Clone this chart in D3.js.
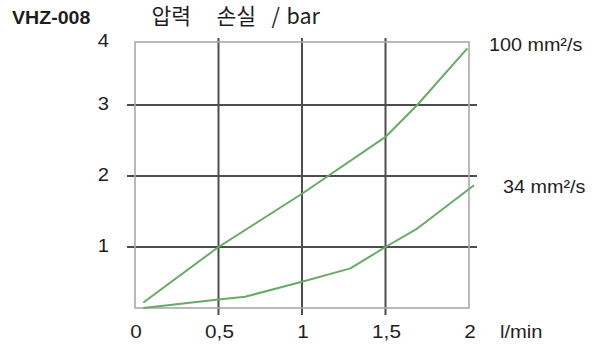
<!DOCTYPE html>
<html>
<head>
<meta charset="utf-8">
<script src="https://cdn.jsdelivr.net/npm/d3@7"></script>
<style>
  html, body { margin: 0; padding: 0; background: #fff; }
  svg { display: block; }
  text { font-family: "Liberation Sans", Arial, sans-serif; fill: #1e1e1e; }
</style>
</head>
<body>
<svg id="chart" width="597" height="345"></svg>
<script>
// Flow rate (l/min) ticks and pressure loss (bar) ticks
const xTicks = [0, 0.5, 1, 1.5, 2];
const xTickLabels = ["0", "0,5", "1", "1,5", "2"];
const yTicks = [0, 1, 2, 3, 4];
const yTickLabels = ["", "1", "2", "3", "4"];

// Pressure loss curves for two viscosities
const flow100 = [0.05, 0.5, 1, 1.5, 1.69, 1.99];
const loss100 = [0.09, 1.0, 1.75, 2.55, 3.0, 3.9];
const flow34 = [0.05, 0.5, 0.66, 1, 1.29, 1.5, 1.69, 2.03];
const loss34 = [0.0, 0.14, 0.185, 0.43, 0.65, 1.0, 1.26, 1.87];

const seriesNames = ["100 mm²/s", "34 mm²/s"];

const svg = d3.select("#chart");

const x = d3.scaleLinear().domain([0, 2]).range([135, 469]);
// grid rows of the printed diagram are not evenly spaced
const y = d3.scaleLinear().domain(yTicks).range([308, 247, 176, 105, 42]);

const gridColor = "#4d4d4d";
const frameColor = "#a9a9a9";
const curveColor = "#66ab66";

// inner horizontal grid lines
svg.append("g").selectAll("line")
  .data(yTicks.filter(v => v > 0 && v < 4))
  .join("line")
  .attr("x1", x(0) - 8).attr("x2", x(2) + 8)
  .attr("y1", d => y(d)).attr("y2", d => y(d))
  .attr("stroke", gridColor).attr("stroke-width", 2);

// inner vertical grid lines
svg.append("g").selectAll("line")
  .data(xTicks.filter(v => v > 0 && v < 2))
  .join("line")
  .attr("x1", d => x(d)).attr("x2", d => x(d))
  .attr("y1", y(4) - 4).attr("y2", y(0) + 7)
  .attr("stroke", gridColor).attr("stroke-width", 2);

// outer frame
svg.append("rect")
  .attr("x", x(0)).attr("y", y(4))
  .attr("width", x(2) - x(0)).attr("height", y(0) - y(4))
  .attr("fill", "none").attr("stroke", frameColor).attr("stroke-width", 1.6);

// curves
const line = d3.line().x(d => x(d[0])).y(d => y(d[1]));
const curves = [d3.zip(flow100, loss100), d3.zip(flow34, loss34)];
svg.append("g").selectAll("path")
  .data(curves)
  .join("path")
  .attr("d", line)
  .attr("fill", "none")
  .attr("stroke", curveColor)
  .attr("stroke-width", 2)
  .attr("stroke-linejoin", "round");

// helper for slightly widened Latin labels
function label(txt, px, py, anchor, size, sx, weight) {
  return svg.append("text")
    .attr("transform", `translate(${px},${py}) scale(${sx},1)`)
    .attr("text-anchor", anchor)
    .attr("font-size", size)
    .attr("font-weight", weight || "normal")
    .text(txt);
}

// y tick labels
yTicks.forEach((v, i) => {
  if (yTickLabels[i]) label(yTickLabels[i], 109, y(v) + 5, "end", 18, 1.12);
});

// x tick labels
xTicks.forEach((v, i) => {
  label(xTickLabels[i], x(v) + 1, 338, "middle", 18.5, 1.12);
});
label("l/min", 500, 338, "start", 18, 1.12);

// series labels
label(seriesNames[0], 489, 51, "start", 17.5, 1.13);
label(seriesNames[1], 503, 193, "start", 17.5, 1.13);

// chart id
label("VHZ-008", 12, 24, "start", 18.5, 1.06, "bold");

// axis title
const title = svg.append("text")
  .attr("y", 24)
  .attr("font-size", 21.5)
  .style("font-family", '"Noto Sans CJK KR", "Noto Sans", sans-serif');
[["압력", 151.5], ["손실", 216.5], ["/", 271.5], ["bar", 286.5]].forEach(([t, px]) => {
  title.append("tspan").attr("x", px).text(t);
});
</script>
</body>
</html>
